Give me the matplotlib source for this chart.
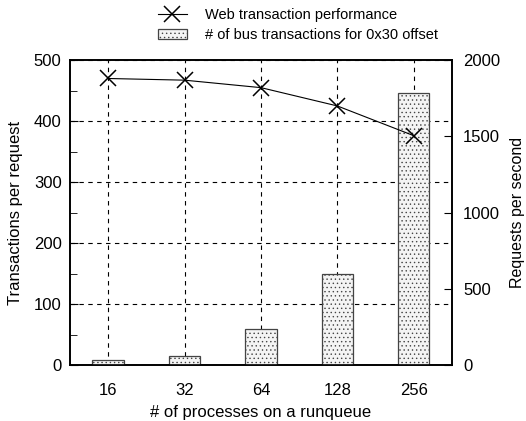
import matplotlib.pyplot as plt
from matplotlib.ticker import MultipleLocator

plt.rcParams["font.family"] = ["Liberation Sans", "DejaVu Sans"]
plt.rcParams["hatch.linewidth"] = 0.5
plt.rcParams["hatch.color"] = "#777777"

# data
procs = ["16", "32", "64", "128", "256"]
bus_transactions = [9, 15, 59, 149, 446]          # left axis
requests_per_sec = [1880, 1869, 1820, 1700, 1505]  # right axis

fig = plt.figure(figsize=(5.26, 4.21), dpi=100)
ax = fig.add_axes([0.133, 0.133, 0.726, 0.724])
x = list(range(len(procs)))

bars = ax.bar(x, bus_transactions, width=0.41, color="#f4f4f4",
              edgecolor="#444444", linewidth=0.9, hatch="....",
              label="# of bus transactions for 0x30 offset", zorder=3)

ax.set_xlim(-0.5, 4.5)
ax.set_ylim(0, 500)
ax.set_xticks(x)
ax.set_xticklabels(procs)
ax.yaxis.set_major_locator(MultipleLocator(100))
ax.yaxis.set_minor_locator(MultipleLocator(50))
ax.tick_params(axis="both", which="both", direction="in", labelsize=12)
ax.tick_params(axis="x", length=0, pad=13)
ax.tick_params(axis="y", which="major", length=6, pad=6)
ax.tick_params(axis="y", which="minor", length=5)
ax.grid(True, color="black", linestyle=(0, (4, 4)), linewidth=0.8, zorder=0)
ax.set_axisbelow(True)
ax.set_xlabel("# of processes on a runqueue", fontsize=12, labelpad=5)
ax.set_ylabel("Transactions per request", fontsize=12, labelpad=8)
for s in ax.spines.values():
    s.set_linewidth(1.2)

ax2 = ax.twinx()
line, = ax2.plot(x, requests_per_sec, color="black", linewidth=0.8,
                 marker="x", markersize=12, markeredgewidth=1.1,
                 label="Web transaction performance")
ax2.set_ylim(0, 2000)
ax2.yaxis.set_major_locator(MultipleLocator(500))
ax2.tick_params(axis="y", direction="in", length=6, pad=8, labelsize=12)
ax2.set_ylabel("Requests per second", fontsize=11.5, labelpad=7)
for s in ax2.spines.values():
    s.set_linewidth(1.2)

fig.legend([line, bars], [line.get_label(), bars.get_label()],
           loc="upper center", bbox_to_anchor=(0.566, 1.005), frameon=False,
           fontsize=10.5, handlelength=2.0, handletextpad=1.2,
           borderpad=0.2, labelspacing=0.4)

fig.savefig("out.png", dpi=100)
